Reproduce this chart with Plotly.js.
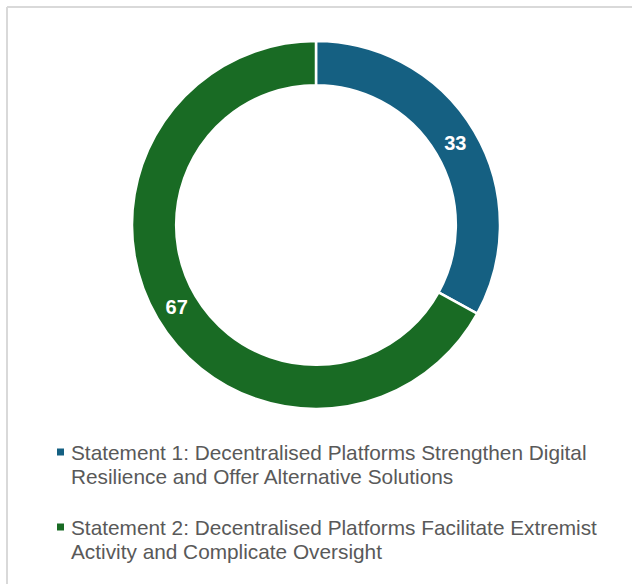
<!DOCTYPE html>
<html>
<head>
<meta charset="utf-8">
<script src="https://cdn.plot.ly/plotly-3.0.1.min.js"></script>
<style>html,body{margin:0;padding:0;background:#fff;}#chart{width:632px;height:584px;}</style>
</head>
<body>
<div id="chart"></div>
<script>
// Data
const categories = [
  "Statement 1: Decentralised Platforms Strengthen Digital Resilience and Offer Alternative Solutions",
  "Statement 2: Decentralised Platforms Facilitate Extremist Activity and Complicate Oversight"
];
const legendLines = [
  ["Statement 1: Decentralised Platforms Strengthen Digital", "Resilience and Offer Alternative Solutions"],
  ["Statement 2: Decentralised Platforms Facilitate Extremist", "Activity and Complicate Oversight"]
];
const values = [33, 67];
const colors = ["#156082", "#196B24"];

const W = 632, H = 584;
const cx = 316, cy = 225, R = 184;

const trace = {
  type: "pie",
  labels: categories,
  values: values,
  sort: false,
  direction: "clockwise",
  rotation: 0,
  hole: 0.76,
  marker: { colors: colors, line: { color: "#ffffff", width: 2.5 } },
  textinfo: "value",
  textposition: "inside",
  insidetextorientation: "horizontal",
  textfont: { family: "Liberation Sans, Arial, sans-serif", size: 20, color: "#ffffff", weight: "bold" },
  showlegend: false,
  hoverinfo: "label+value",
  domain: { x: [(cx - R) / W, (cx + R) / W], y: [1 - (cy + R) / H, 1 - (cy - R) / H] }
};

const lineY = [[452, 476], [527, 551]];
const annotations = [];
const shapes = [];
legendLines.forEach((lines, i) => {
  lines.forEach((t, j) => {
    annotations.push({
      xref: "paper", yref: "paper", x: 69 / W, y: 1 - lineY[i][j] / H,
      xanchor: "left", yanchor: "middle", showarrow: false, text: t,
      font: { family: "Liberation Sans, Arial, sans-serif", size: 20.8, color: "#595959" }
    });
  });
  shapes.push({
    type: "rect", xref: "paper", yref: "paper",
    x0: 57 / W, x1: 64 / W, y0: 1 - (lineY[i][0] + 3.5) / H, y1: 1 - (lineY[i][0] - 3.5) / H,
    fillcolor: colors[i], line: { width: 0 }
  });
});
// chart frame (top and left edges visible)
shapes.push({ type: "line", xref: "paper", yref: "paper", x0: 7 / W, x1: 1.01, y0: 1 - 7 / H, y1: 1 - 7 / H, line: { color: "#d9d9d9", width: 2 } });
shapes.push({ type: "line", xref: "paper", yref: "paper", x0: 7 / W, x1: 7 / W, y0: -0.01, y1: 1 - 7 / H, line: { color: "#d9d9d9", width: 2 } });

const layout = {
  width: W, height: H,
  margin: { l: 0, r: 0, t: 0, b: 0 },
  paper_bgcolor: "#ffffff",
  plot_bgcolor: "#ffffff",
  showlegend: false,
  annotations: annotations,
  shapes: shapes
};

Plotly.newPlot("chart", [trace], layout, { displayModeBar: false, staticPlot: true });
</script>
</body>
</html>
